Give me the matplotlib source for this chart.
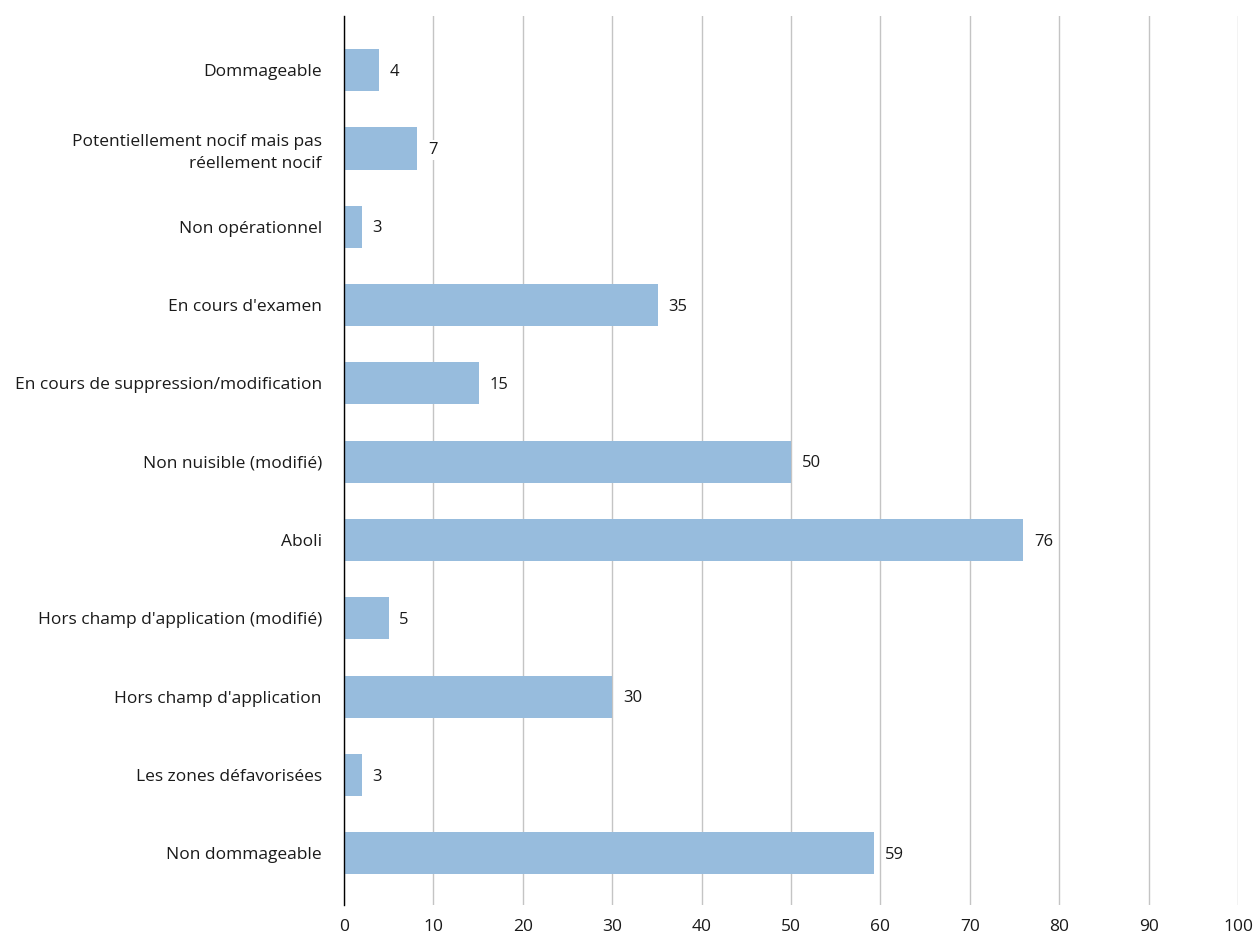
import numpy as np
import matplotlib.pyplot as plt

plt.rcParams['font.family'] = ['Open Sans', 'DejaVu Sans']

# Données
categories = ["Dommageable",
              "Potentiellement nocif mais pas\nréellement nocif",
              "Non opérationnel",
              "En cours d'examen",
              "En cours de suppression/modification",
              "Non nuisible (modifié)",
              "Aboli",
              "Hors champ d'application (modifié)",
              "Hors champ d'application",
              "Les zones défavorisées",
              "Non dommageable"]
longueurs = [3.9, 8.2, 2.0, 35.1, 15.1, 50.0, 76.0, 5.0, 30.0, 2.0, 59.3]
etiquettes = ["4", "7", "3", "35", "15", "50", "76", "5", "30", "3", "59"]
graduations = list(range(0, 101, 10))

fig = plt.figure(figsize=(12.55, 9.38), dpi=100)
ax = fig.add_axes([344 / 1255, 33 / 938, 894 / 1255, 889 / 938])

y = np.arange(len(categories))
ax.barh(y, longueurs, height=0.54, color='#97bcdd', zorder=2)

for yi, v, t in zip(y, longueurs, etiquettes):
    ax.text(v + 1.2, yi + 0.02, t, va='center', ha='left', fontsize=12, color='#1a1a1a',
            bbox=dict(facecolor='white', edgecolor='none', pad=1.5), zorder=3)

ax.set_xlim(0, 100)
ax.set_ylim(10.66, -0.69)
ax.set_xticks(graduations)
ax.set_yticks(y)
ax.set_yticklabels(categories, fontsize=12.5, color='#1a1a1a', linespacing=1.45)
ax.tick_params(axis='x', labelsize=12.5, colors='#1a1a1a', length=0, pad=10)
ax.tick_params(axis='y', length=0, pad=16)
ax.grid(axis='x', color='#c4c4c4', linewidth=1.0, zorder=0)
ax.set_axisbelow(True)

for s in ['top', 'right', 'bottom']:
    ax.spines[s].set_visible(False)
ax.spines['left'].set_color('black')
ax.spines['left'].set_linewidth(1.0)
ax.spines['left'].set_zorder(4)

plt.savefig('out.png', dpi=100)
